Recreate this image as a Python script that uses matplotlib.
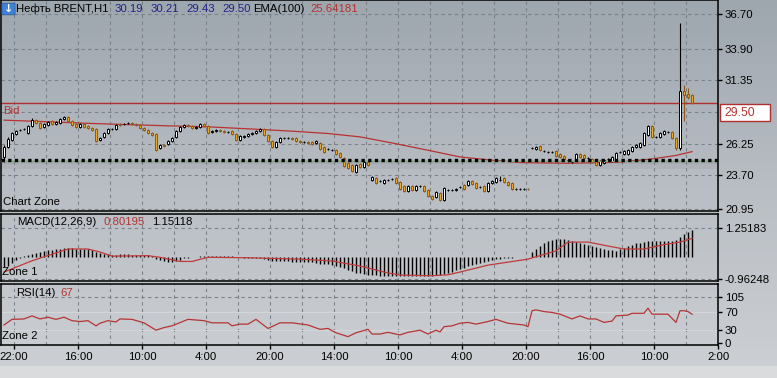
import numpy as np
import matplotlib.pyplot as plt
from matplotlib.patches import Rectangle, FancyBboxPatch
from matplotlib.colors import LinearSegmentedColormap

plt.rcParams['font.family'] = ['Liberation Sans', 'DejaVu Sans']
plt.rcParams['font.size'] = 8.2

# --- price bars (H1) ---
opens = [25.17, 25.98, 26.54, 27.02, 27.35, 27.43, 27.10, 27.67, 28.15, 27.91,
         27.59, 27.75, 28.07, 27.83, 27.91, 28.23, 28.39, 28.07, 27.83, 27.59,
         27.83, 27.67, 27.51, 27.43, 26.54, 26.78, 27.10, 27.43, 27.43, 27.83,
         27.83, 27.91, 27.91, 27.83, 27.75, 27.51, 27.35, 27.10, 27.02, 25.89,
         26.14, 26.22, 26.46, 26.78, 27.27, 27.59, 27.75, 27.67, 27.51, 27.59,
         27.83, 27.67, 27.18, 27.27, 27.35, 27.27, 27.18, 27.27, 27.02, 26.54,
         26.78, 26.86, 27.02, 27.10, 27.27, 27.43, 26.94, 26.46, 25.98, 26.38,
         26.70, 26.70, 26.70, 26.70, 26.46, 26.38, 26.38, 26.38, 26.30, 26.30,
         25.98, 25.81, 25.73, 25.73, 25.49, 25.09, 24.68, 24.52, 23.96, 24.60,
         24.36, 24.77, 23.31, 23.48, 23.23, 23.07, 23.31, 23.40, 23.48, 23.15,
         22.83, 22.43, 22.83, 22.51, 22.83, 22.83, 22.51, 22.02, 21.94, 22.27,
         21.70, 22.51, 22.51, 22.51, 22.75, 22.91, 22.91, 23.23, 23.07, 22.75,
         22.83, 22.43, 23.07, 23.15, 23.31, 23.48, 23.15, 23.07, 22.59, 22.59,
         22.59, 22.62, 25.89, 25.81, 26.06, 25.65, 25.57, 25.57, 25.65, 25.41,
         25.25, 24.93, 24.77, 24.93, 25.41, 25.33, 25.09, 25.01, 24.85, 24.52,
         24.68, 25.01, 24.85, 24.93, 25.57, 25.41, 25.41, 25.65, 25.98, 25.98,
         26.14, 26.94, 27.67, 26.78, 26.78, 27.02, 27.18, 27.18, 26.70, 25.89,
         30.49, 30.25, 30.19]
highs = [26.10, 26.75, 27.20, 27.35, 27.45, 27.52, 27.75, 28.28, 28.25, 27.98,
         27.90, 28.08, 28.15, 28.05, 28.30, 28.50, 28.45, 28.12, 27.90, 27.92,
         27.90, 27.75, 27.58, 27.50, 26.80, 27.18, 27.50, 27.52, 27.82, 27.90,
         27.92, 27.98, 27.98, 27.90, 27.82, 27.58, 27.42, 27.18, 27.10, 26.22,
         26.22, 26.55, 26.78, 27.35, 27.66, 27.85, 27.82, 27.75, 27.66, 27.92,
         27.90, 27.75, 27.35, 27.42, 27.42, 27.35, 27.26, 27.35, 27.10, 26.94,
         26.94, 27.10, 27.18, 27.35, 27.52, 27.52, 27.02, 26.54, 26.46, 26.78,
         26.80, 26.80, 26.78, 26.78, 26.54, 26.46, 26.46, 26.46, 26.54, 26.38,
         26.06, 25.90, 25.82, 25.82, 25.57, 25.17, 24.77, 24.60, 24.60, 24.68,
         24.85, 24.85, 23.65, 23.56, 23.32, 23.40, 23.40, 23.48, 23.56, 23.23,
         22.91, 22.91, 22.91, 22.91, 22.92, 22.91, 22.59, 22.10, 22.43, 22.35,
         22.75, 22.60, 22.60, 22.67, 22.83, 22.99, 23.31, 23.31, 23.15, 22.83,
         22.91, 23.15, 23.31, 23.56, 23.64, 23.56, 23.23, 23.15, 22.67, 22.67,
         22.67, 22.67, 25.97, 26.06, 26.14, 25.73, 25.65, 25.65, 25.73, 25.49,
         25.33, 25.01, 24.85, 25.49, 25.49, 25.41, 25.17, 25.09, 24.93, 24.93,
         25.01, 25.09, 25.25, 25.57, 25.65, 25.73, 25.81, 26.06, 26.22, 26.38,
         27.18, 27.75, 27.75, 26.86, 27.18, 27.35, 27.26, 27.26, 26.78, 35.98,
         30.98, 30.73, 30.21]
lows = [24.80, 25.90, 26.45, 26.95, 27.25, 27.35, 27.02, 27.60, 27.85, 27.42,
        27.50, 27.68, 27.75, 27.75, 27.85, 28.15, 28.00, 27.68, 27.50, 27.52,
        27.52, 27.45, 27.28, 26.38, 26.45, 26.72, 27.02, 27.35, 27.38, 27.68,
        27.75, 27.82, 27.76, 27.68, 27.45, 27.28, 27.02, 26.86, 25.62, 25.80,
        25.98, 26.12, 26.38, 26.70, 27.20, 27.52, 27.60, 27.44, 27.44, 27.52,
        27.60, 27.02, 27.10, 27.20, 27.20, 27.10, 27.10, 26.95, 26.46, 26.46,
        26.70, 26.78, 26.95, 27.02, 27.20, 26.86, 26.38, 25.90, 25.90, 26.30,
        26.60, 26.60, 26.55, 26.38, 26.30, 26.30, 26.22, 26.14, 26.22, 25.73,
        25.49, 25.72, 25.65, 25.33, 25.09, 24.36, 24.20, 23.96, 23.88, 24.28,
        24.28, 24.44, 23.23, 22.99, 23.15, 22.99, 23.23, 23.32, 22.99, 22.51,
        22.35, 22.35, 22.43, 22.43, 22.75, 22.35, 21.94, 21.70, 21.86, 21.62,
        21.62, 22.43, 22.43, 22.43, 22.67, 22.51, 22.83, 22.91, 22.59, 22.67,
        22.35, 22.35, 22.99, 23.07, 23.23, 23.07, 22.83, 22.51, 22.51, 22.51,
        22.51, 22.51, 25.82, 25.73, 25.65, 25.57, 25.49, 25.49, 25.17, 25.09,
        24.93, 24.77, 24.68, 24.85, 25.09, 25.01, 25.01, 24.68, 24.44, 24.44,
        24.60, 24.93, 24.77, 24.85, 25.49, 25.33, 25.33, 25.57, 25.90, 25.90,
        26.06, 26.86, 26.70, 26.70, 26.70, 26.94, 27.10, 26.62, 25.73, 25.73,
        28.07, 29.85, 29.43]
closes = [25.98, 26.62, 27.10, 27.27, 27.35, 27.43, 27.67, 28.15, 27.91, 27.51,
          27.83, 27.99, 27.83, 27.99, 28.23, 28.39, 28.07, 27.75, 27.59, 27.83,
          27.59, 27.51, 27.35, 26.46, 26.70, 27.10, 27.43, 27.43, 27.75, 27.75,
          27.83, 27.91, 27.83, 27.75, 27.51, 27.35, 27.10, 26.94, 25.73, 26.14,
          26.06, 26.46, 26.70, 27.27, 27.59, 27.75, 27.67, 27.51, 27.59, 27.83,
          27.67, 27.10, 27.27, 27.35, 27.27, 27.18, 27.18, 27.02, 26.54, 26.86,
          26.86, 27.02, 27.10, 27.27, 27.43, 26.94, 26.46, 25.98, 26.38, 26.70,
          26.70, 26.70, 26.62, 26.46, 26.38, 26.38, 26.30, 26.22, 26.46, 25.81,
          25.57, 25.81, 25.73, 25.41, 25.17, 24.44, 24.28, 24.04, 24.52, 24.36,
          24.77, 24.52, 23.56, 23.07, 23.23, 23.31, 23.31, 23.40, 23.07, 22.59,
          22.43, 22.83, 22.51, 22.83, 22.83, 22.43, 22.02, 21.78, 22.35, 21.70,
          22.67, 22.51, 22.51, 22.59, 22.75, 22.59, 23.23, 22.99, 22.67, 22.75,
          22.43, 23.07, 23.23, 23.48, 23.31, 23.15, 22.91, 22.59, 22.59, 22.59,
          22.59, 22.59, 25.89, 25.98, 25.73, 25.65, 25.57, 25.57, 25.25, 25.17,
          25.01, 24.93, 24.77, 25.41, 25.17, 25.09, 25.09, 24.77, 24.52, 24.85,
          24.93, 25.01, 25.17, 25.49, 25.57, 25.65, 25.73, 25.98, 26.14, 26.30,
          27.10, 27.67, 26.78, 26.78, 27.10, 27.27, 27.18, 26.70, 25.89, 30.49,
          30.17, 30.01, 29.50]

# EMA(100) line, sampled at bar indices
ema_bars = [0, 22, 41, 51, 64, 72, 81, 89, 97, 106, 114, 122, 129, 141, 154, 162, 168, 172]
ema_vals = [28.14, 27.87, 27.68, 27.60, 27.39, 27.25, 27.06, 26.79, 26.30, 25.71,
            25.17, 24.91, 24.72, 24.66, 24.75, 25.01, 25.29, 25.60]

# MACD(12,26,9): histogram per bar + signal line
macd_hist = [-0.45, -0.38, -0.28, -0.15, -0.05, 0.03, 0.08, 0.12, 0.16, 0.20,
             0.24, 0.28, 0.31, 0.34, 0.36, 0.38, 0.38, 0.37, 0.36, 0.35,
             0.34, 0.32, 0.28, 0.22, 0.17, 0.13, 0.11, 0.10, 0.10, 0.11,
             0.11, 0.11, 0.10, 0.10, 0.09, 0.08, 0.06, 0.03, -0.08, -0.15,
             -0.20, -0.23, -0.22, -0.18, -0.12, -0.07, -0.03, -0.01, 0.01, 0.02,
             0.03, 0.03, 0.02, 0.02, 0.03, 0.03, 0.03, 0.02, 0.00, -0.02,
             -0.03, -0.03, -0.03, -0.03, -0.05, -0.08, -0.12, -0.16, -0.18, -0.19,
             -0.20, -0.20, -0.21, -0.22, -0.22, -0.23, -0.24, -0.24, -0.26, -0.29,
             -0.31, -0.33, -0.35, -0.38, -0.42, -0.48, -0.55, -0.62, -0.68, -0.72,
             -0.75, -0.77, -0.80, -0.81, -0.82, -0.82, -0.83, -0.83, -0.83, -0.84,
             -0.84, -0.84, -0.84, -0.84, -0.83, -0.83, -0.82, -0.82, -0.80, -0.78,
             -0.74, -0.70, -0.65, -0.59, -0.53, -0.47, -0.41, -0.36, -0.31, -0.26,
             -0.22, -0.18, -0.14, -0.11, -0.08, -0.06, -0.04, -0.03, -0.02, -0.01,
             0.00, 0.01, 0.20, 0.35, 0.48, 0.60, 0.70, 0.74, 0.77, 0.77,
             0.76, 0.72, 0.67, 0.63, 0.58, 0.54, 0.50, 0.46, 0.42, 0.38,
             0.34, 0.30, 0.28, 0.27, 0.32, 0.38, 0.45, 0.52, 0.58, 0.62,
             0.66, 0.68, 0.68, 0.68, 0.68, 0.67, 0.68, 0.69, 0.72, 0.85,
             0.98, 1.08, 1.15]
signal_bars = [0, 7, 16, 21, 24, 27, 36, 39, 44, 47, 51, 61, 74, 82, 89, 96, 99, 107,
               111, 114, 121, 131, 138, 141, 146, 151, 155, 160, 165, 169, 172]
signal_vals = [-0.66, -0.17, 0.34, 0.34, 0.21, 0.03, 0.05, -0.02, -0.20, -0.20,
               -0.02, -0.04, -0.10, -0.18, -0.40, -0.70, -0.79, -0.82, -0.78, -0.66,
               -0.36, -0.10, 0.26, 0.64, 0.64, 0.47, 0.34, 0.34, 0.53, 0.64, 0.80]

# RSI(14)
rsi_bars = [0, 2, 5, 7, 9, 11, 13, 15, 17, 19, 21, 23, 24, 26, 28, 29, 32, 35, 38, 40,
            42, 46, 50, 52, 56, 57, 59, 61, 63, 66, 69, 72, 76, 79, 81, 83, 86, 88, 91, 92,
            94, 96, 99, 101, 104, 106, 108, 109, 110, 112, 114, 116, 118, 119, 121, 123,
            126, 130, 131, 132, 133, 135, 137, 139, 142, 144, 146, 148, 150, 152, 153, 156,
            157, 160, 161, 162, 166, 168, 169, 170, 171, 172]
rsi_vals = [41, 54, 55, 62, 55, 59, 54, 59, 51, 49, 51, 39, 45, 51, 48, 55, 54, 46, 29, 35,
            39, 54, 51, 46, 46, 39, 43, 43, 54, 33, 46, 46, 41, 31, 33, 23, 14, 23, 31, 20,
            20, 24, 18, 24, 29, 20, 29, 25, 37, 39, 45, 47, 43, 45, 49, 54,
            45, 41, 37, 74, 76, 72, 70, 66, 55, 62, 55, 55, 47, 50, 62, 64,
            68, 68, 80, 66, 66, 47, 74, 74, 72, 66]

price_ticks = [36.70, 33.90, 31.35, 26.25, 23.70, 20.95]
price_grid = [36.70, 33.90, 31.35, 28.80, 26.25, 23.70, 20.95]
macd_ticks = [1.25183, -0.96248]
rsi_ticks = [105, 70, 30, 0]
time_labels = ["22:00", "16:00", "10:00", "4:00", "20:00", "14:00",
               "10:00", "4:00", "20:00", "16:00", "10:00", "2:00"]
bid = 29.50
hline_level = 24.95

W, H = 777, 378
fig = plt.figure(figsize=(W / 100, H / 100), dpi=100)

# background gradient
bg = fig.add_axes([0, 0, 1, 1], zorder=-10)
cmap = LinearSegmentedColormap.from_list('bg', ['#9ea6ae', '#b9bec4', '#cdd0d4'])
bg.imshow(np.linspace(0, 1, 256)[:, None], aspect='auto', cmap=cmap,
          extent=[0, 1, 0, 1], origin='upper')
bg.axis('off')
fig.add_artist(Rectangle((0, 0), 1, 12 / H, transform=fig.transFigure,
                         facecolor='#d9dbdd', edgecolor='none', zorder=-5))


def panel(y0, y1):
    ax = fig.add_axes([1 / W, 1 - y1 / H, 717 / W, (y1 - y0) / H])
    ax.set_facecolor('none')
    for s in ax.spines.values():
        s.set_color('black')
        s.set_linewidth(1.1)
    ax.set_xlim(-0.75, 178.5)
    for g in np.arange(2.5, 179, 8):
        ax.axvline(g, color='#7b8289', lw=0.8, ls=(0, (3, 3)), zorder=0)
    ax.yaxis.tick_right()
    ax.tick_params(axis='y', length=3, width=1, pad=2, labelsize=8.2)
    ax.set_xticks([])
    return ax


grid_kw = dict(color='#7b8289', lw=0.8, ls=(0, (3, 3)), zorder=0)

# ---------- main price panel ----------
main = panel(0, 211)
main.set_ylim(20.81, 37.83)
for p in price_grid:
    main.axhline(p, **grid_kw)
main.set_yticks(price_ticks)
main.set_yticklabels(['%.2f' % p for p in price_ticks])

n = min(len(opens), len(highs), len(lows), len(closes))
o = np.array(opens[:n]); hi = np.array(highs[:n])
lo = np.array(lows[:n]); c = np.array(closes[:n])
xb = np.arange(n)
up = c >= o
body_lo = np.minimum(o, c)
body_h = np.abs(c - o)
main.vlines(xb[up], lo[up], hi[up], color='black', lw=0.8, zorder=3)
main.vlines(xb[~up], lo[~up], hi[~up], color='#8a5a1e', lw=0.8, zorder=3)
main.bar(xb[up], body_h[up], bottom=body_lo[up], width=0.6, color='white',
         edgecolor='black', lw=0.7, zorder=4)
main.bar(xb[~up], body_h[~up], bottom=body_lo[~up], width=0.6, color='#f0a81e',
         edgecolor='#8a5a1e', lw=0.7, zorder=4)

main.plot(ema_bars, ema_vals, color='#b83232', lw=0.9, zorder=2)
main.axhline(bid, color='#b03030', lw=1.0, zorder=2)

# horizontal level with its shadow
main.axhspan(hline_level - 0.75, hline_level - 0.06, color='black', alpha=0.04, lw=0, zorder=1)
main.axhspan(hline_level - 0.35, hline_level - 0.06, color='black', alpha=0.04, lw=0, zorder=1)
main.axhline(hline_level - 0.07, color='#7faa7f', lw=0.9, zorder=5)
main.axhline(hline_level, color='black', lw=2.4, ls=(0, (1, 1)), zorder=6)

# ---------- MACD panel ----------
macd = panel(214, 281)
macd.set_ylim(-1.049, 1.860)
for v in macd_ticks:
    macd.axhline(v, **grid_kw)
macd.vlines(np.arange(len(macd_hist)), 0, macd_hist, color='black', lw=1.0, zorder=3)
macd.plot(signal_bars, signal_vals, color='#c03a3a', lw=0.9, zorder=4)
macd.set_yticks(macd_ticks)
macd.set_yticklabels(['1.25183', '-0.96248'])

# ---------- RSI panel ----------
rsi = panel(284, 345)
rsi.set_ylim(-5.3, 135.8)
rsi.axhline(105, **grid_kw)
for lv in (70, 30):
    rsi.axhline(lv, color='#d3d6d9', lw=0.8, zorder=0)
rsi.plot(rsi_bars, rsi_vals, color='#b53535', lw=0.9, zorder=4)
rsi.set_yticks(rsi_ticks)
rsi.set_yticklabels([str(v) for v in rsi_ticks])
rsi.set_xticks(np.arange(len(time_labels)) * 16 + 2.5)
rsi.set_xticklabels(time_labels)
rsi.tick_params(axis='x', length=3, width=1, pad=2, labelsize=8.2)


def txt(x, y, s, color='black', **kw):
    fig.text(x / W, 1 - y / H, s, color=color, ha='left', va='center', **kw)


blue = '#22228a'
red = '#b43232'

# header of main chart
fig.add_artist(FancyBboxPatch((3.5 / W, 1 - 14 / H), 10 / W, 10 / H,
                              boxstyle='round,pad=0.002', transform=fig.transFigure,
                              facecolor='#3f82d8', edgecolor='#2a5fa8', lw=0.6))
fig.text(8.5 / W, 1 - 9 / H, '↓', color='white', ha='center', va='center',
         fontsize=8, fontweight='bold', family='DejaVu Sans')
txt(16, 9, 'Нефть BRENT,H1')
txt(115, 9, '30.19', blue)
txt(151, 9, '30.21', blue)
txt(186, 9, '29.43', blue)
txt(222, 9, '29.50', blue)
txt(253, 9, 'EMA(100)')
txt(310, 9, '25.64181', red)

txt(3, 111, 'Bid', red)
txt(3, 202, 'Chart Zone')

# bid price box on the axis
fig.add_artist(Rectangle((720 / W, 1 - 121 / H), 50 / W, 17 / H, transform=fig.transFigure,
                         facecolor='white', edgecolor='#b03030', lw=1.0))
txt(724, 112.5, '29.50', red, fontsize=8.8)

txt(17, 222, 'MACD(12,26,9)')
txt(104, 222, '0.80195', red)
txt(152, 222, '1.15118')
txt(2, 272, 'Zone 1')

txt(16, 293, 'RSI(14)')
txt(60, 293, '67', red)
txt(2, 336, 'Zone 2')

fig.savefig('out.png', dpi=100)
